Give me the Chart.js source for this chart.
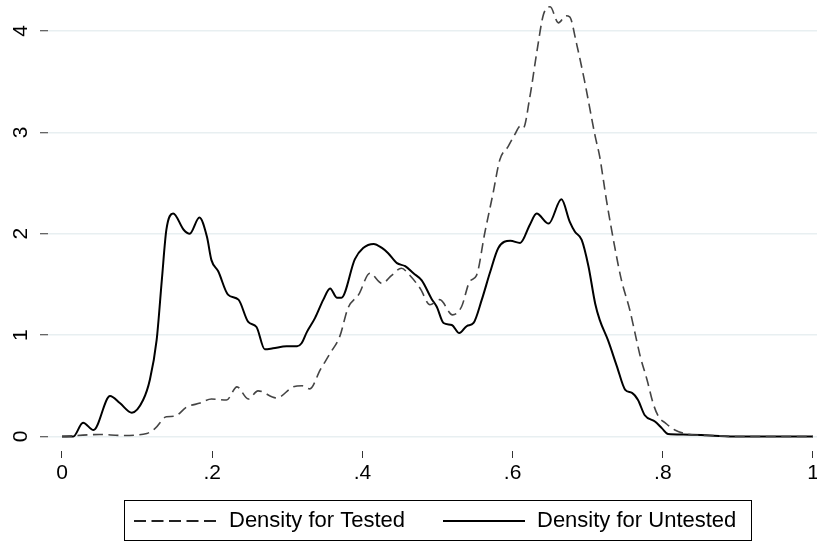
<!DOCTYPE html>
<html>
<head>
<meta charset="utf-8">
<script src="https://cdn.jsdelivr.net/npm/chart.js@4.4.1/dist/chart.umd.min.js"></script>
<style>
  html, body { margin: 0; padding: 0; background: #ffffff; }
  canvas { display: block; }
</style>
</head>
<body>
<canvas id="chart" width="817" height="542"></canvas>
<script>
// ---- data ----
const xTickValues = [0, 0.2, 0.4, 0.6, 0.8, 1];
const xTickLabels = ['0', '.2', '.4', '.6', '.8', '1'];
const yTickValues = [0, 1, 2, 3, 4];
const yTickLabels = ['0', '1', '2', '3', '4'];
const seriesNames = ['Density for Tested', 'Density for Untested'];

const testedX = [0, 0.05, 0.08, 0.113, 0.124, 0.139, 0.150, 0.166, 0.184, 0.199, 0.219, 0.233, 0.248, 0.261, 0.286, 0.308, 0.320, 0.330, 0.344, 0.357, 0.370, 0.381, 0.395, 0.410, 0.426, 0.439, 0.452, 0.463, 0.477, 0.490, 0.503, 0.520, 0.532, 0.543, 0.552, 0.563, 0.574, 0.583, 0.594, 0.603, 0.610, 0.614, 0.623, 0.632, 0.641, 0.650, 0.661, 0.671, 0.676, 0.685, 0.696, 0.710, 0.716, 0.725, 0.736, 0.745, 0.756, 0.763, 0.770, 0.779, 0.787, 0.794, 0.804, 0.816, 0.836, 0.863, 0.9, 1.0];
const testedY = [0, 0.02, 0.01, 0.03, 0.08, 0.195, 0.20, 0.29, 0.33, 0.37, 0.36, 0.49, 0.37, 0.45, 0.38, 0.49, 0.50, 0.47, 0.66, 0.82, 0.99, 1.27, 1.40, 1.61, 1.51, 1.59, 1.66, 1.59, 1.46, 1.30, 1.35, 1.20, 1.28, 1.53, 1.59, 2.01, 2.40, 2.73, 2.86, 2.98, 3.06, 3.04, 3.35, 3.78, 4.16, 4.24, 4.08, 4.15, 4.14, 3.88, 3.50, 2.96, 2.76, 2.33, 1.87, 1.54, 1.25, 1.02, 0.79, 0.56, 0.33, 0.20, 0.13, 0.064, 0.02, 0.01, 0, 0];

const untestedX = [0, 0.015, 0.028, 0.042, 0.064, 0.077, 0.093, 0.108, 0.117, 0.126, 0.133, 0.139, 0.148, 0.162, 0.170, 0.183, 0.193, 0.199, 0.208, 0.221, 0.235, 0.248, 0.259, 0.270, 0.281, 0.299, 0.313, 0.319, 0.326, 0.337, 0.348, 0.357, 0.366, 0.372, 0.390, 0.401, 0.415, 0.426, 0.434, 0.446, 0.457, 0.468, 0.479, 0.492, 0.499, 0.508, 0.519, 0.529, 0.539, 0.548, 0.559, 0.570, 0.581, 0.597, 0.610, 0.623, 0.632, 0.648, 0.665, 0.676, 0.683, 0.692, 0.701, 0.710, 0.716, 0.727, 0.739, 0.750, 0.759, 0.767, 0.776, 0.790, 0.799, 0.807, 0.827, 0.863, 0.9, 1.0];
const untestedY = [0, 0, 0.136, 0.064, 0.40, 0.33, 0.235, 0.36, 0.56, 0.95, 1.55, 2.04, 2.20, 2.04, 2.00, 2.16, 1.97, 1.74, 1.63, 1.40, 1.35, 1.13, 1.08, 0.86, 0.87, 0.89, 0.89, 0.92, 1.03, 1.17, 1.35, 1.46, 1.37, 1.37, 1.75, 1.86, 1.90, 1.86, 1.81, 1.71, 1.68, 1.61, 1.54, 1.36, 1.28, 1.12, 1.10, 1.02, 1.09, 1.12, 1.35, 1.62, 1.86, 1.93, 1.91, 2.09, 2.20, 2.10, 2.34, 2.12, 2.02, 1.94, 1.68, 1.31, 1.15, 0.95, 0.69, 0.46, 0.43, 0.36, 0.21, 0.146, 0.08, 0.025, 0.02, 0.01, 0, 0];

// ---- chart ----
const FONT = "'Liberation Sans', Arial, Helvetica, sans-serif";
Chart.defaults.font.family = FONT;
Chart.defaults.color = '#000';

function toPoints(xs, ys) { return xs.map((x, i) => ({ x: x, y: ys[i] })); }

const legendBox = {
  id: 'legendBox',
  afterDraw(chart) {
    const c = chart.ctx;
    c.save();
    c.strokeStyle = '#000';
    c.lineWidth = 1;
    c.setLineDash([]);
    c.strokeRect(124.5, 500.5, 627, 40);
    const cols = [{ x0: 134, x1: 216, tx: 229 }, { x0: 443, x1: 525, tx: 537 }];
    const yMid = 521;
    chart.data.datasets.forEach((ds, i) => {
      c.beginPath();
      c.setLineDash(i === 0 ? [12, 5.5] : []);
      c.strokeStyle = i === 0 ? '#222' : '#000';
      c.lineWidth = 1.8;
      c.moveTo(cols[i].x0, yMid);
      c.lineTo(cols[i].x1, yMid);
      c.stroke();
      c.setLineDash([]);
      c.fillStyle = '#000';
      c.font = "22px " + FONT;
      c.textBaseline = 'middle';
      c.textAlign = 'left';
      c.fillText(ds.label, cols[i].tx, yMid);
    });
    c.restore();
  }
};

new Chart(document.getElementById('chart'), {
  type: 'line',
  data: {
    datasets: [
      {
        label: seriesNames[0],
        data: toPoints(testedX, testedY),
        borderColor: '#444444',
        borderWidth: 1.6,
        borderDash: [10, 5.5],
        pointRadius: 0,
        fill: false,
        cubicInterpolationMode: 'monotone'
      },
      {
        label: seriesNames[1],
        data: toPoints(untestedX, untestedY),
        borderColor: '#000000',
        borderWidth: 2,
        pointRadius: 0,
        fill: false,
        cubicInterpolationMode: 'monotone'
      }
    ]
  },
  options: {
    responsive: false,
    animation: false,
    layout: { padding: { left: 0, right: 0, top: 0, bottom: 41 } },
    plugins: { legend: { display: false }, tooltip: { enabled: false } },
    scales: {
      x: {
        type: 'linear',
        min: -0.01864,
        max: 1.00533,
        afterBuildTicks: s => { s.ticks = xTickValues.map(v => ({ value: v })); },
        afterFit: s => { s.height = 50; s.paddingLeft = 0; s.paddingRight = 0; },
        grid: { drawOnChartArea: false, drawTicks: true, tickLength: 7, tickColor: '#333', tickWidth: 1 },
        border: { display: false },
        ticks: {
          font: { size: 21 }, color: '#000', padding: 2.5, maxRotation: 0, minRotation: 0, autoSkip: false,
          callback: (v, i) => xTickLabels[i]
        }
      },
      y: {
        type: 'linear',
        min: -0.143,
        max: 4.306,
        afterBuildTicks: s => { s.ticks = yTickValues.map(v => ({ value: v })); },
        afterFit: s => { s.width = 48; s.paddingTop = 0; s.paddingBottom = 0; },
        grid: { color: '#e8eff1', lineWidth: 1.5, drawTicks: true, tickLength: 8, tickColor: '#333', tickWidth: 1 },
        border: { display: false },
        ticks: {
          font: { size: 21 }, color: '#000', padding: 13, minRotation: 90, maxRotation: 90,
          crossAlign: 'center', autoSkip: false,
          callback: (v, i) => yTickLabels[i]
        }
      }
    }
  },
  plugins: [legendBox]
});
</script>
</body>
</html>
